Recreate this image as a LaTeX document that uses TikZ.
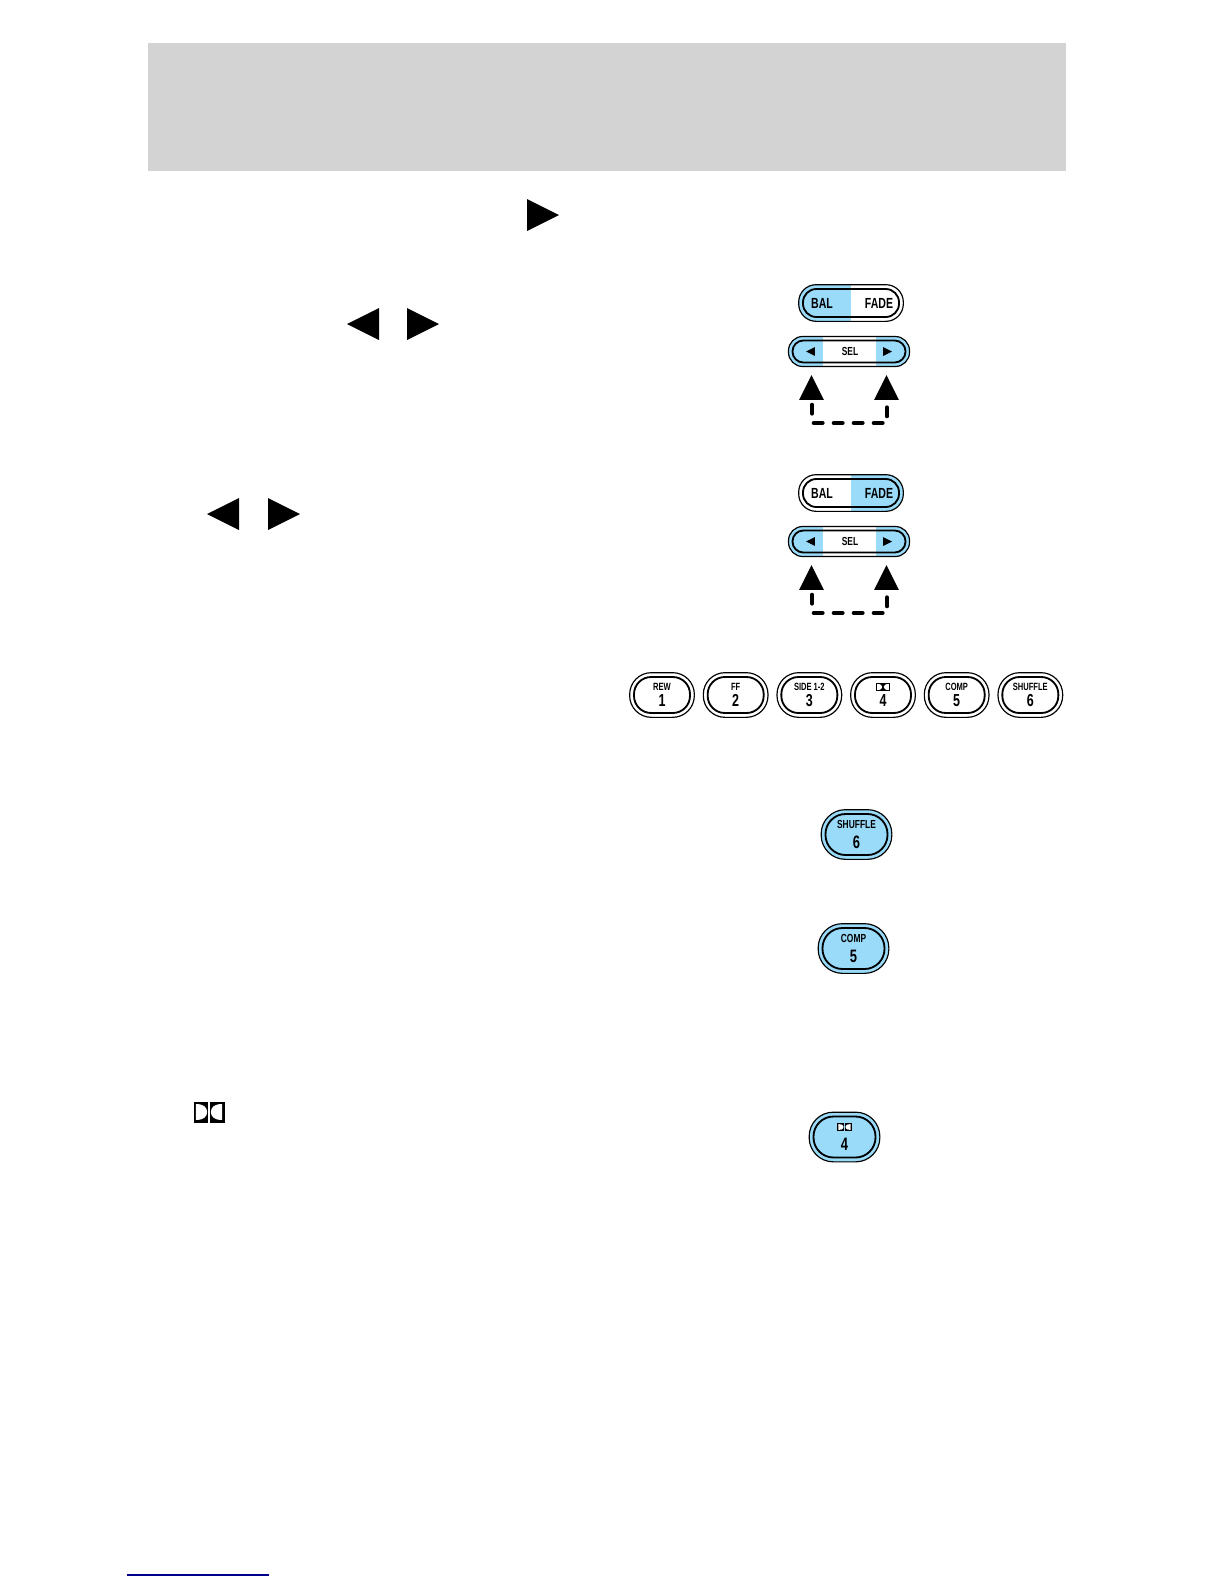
\documentclass[tikz,border=0pt]{standalone}
\usepackage{fontspec}
\usetikzlibrary{positioning,fit,backgrounds}
\newfontfamily\keyfont[FakeStretch=0.72]{Liberation Sans}
\definecolor{KeyBlue}{HTML}{9ADBFA}
\definecolor{HeaderGray}{HTML}{D3D3D3}
\definecolor{LinkBlue}{HTML}{00008B}
\newcommand{\keytext}[2]{{\fontsize{6.3}{6.1}\selectfont #1}\\[-2pt]{\fontsize{10.4}{6}\selectfont #2}}
\newcommand{\bigkeytext}[2]{{\fontsize{7}{7}\selectfont #1}\\[-0.2pt]{\fontsize{10.8}{6}\selectfont #2}}
\tikzset{
  keycap/.style={
    draw=black,
    line width=1.1pt,
    rounded corners=10.3pt,
    outer sep=0pt,
    inner sep=0pt,
    minimum width=33.6pt,
    minimum height=21.6pt,
    align=center,
    font=\keyfont\bfseries
  },
  bigcap/.style={
    keycap,
    rounded corners=12pt,
    minimum width=37.2pt,
    minimum height=24.6pt
  },
  balcap/.style={
    keycap,
    rounded corners=8pt,
    minimum width=57.6pt,
    minimum height=16.8pt
  },
  selcap/.style={
    keycap,
    rounded corners=6.5pt,
    minimum width=67.8pt,
    minimum height=13.2pt
  },
  keyrim/.style={
    draw=black,
    line width=0.7pt,
    rounded corners=#1,
    outer sep=0pt,
    inner sep=2.6pt
  },
  keyrim/.default=13pt,
  keyword/.style={font=\keyfont\bfseries\fontsize{8.8}{9}\selectfont},
  selword/.style={font=\keyfont\bfseries\fontsize{7}{7}\selectfont},
  leftblue/.style={path picture={
    \fill[KeyBlue, sharp corners] (path picture bounding box.south west) rectangle (path picture bounding box.north);}},
  rightblue/.style={path picture={
    \fill[KeyBlue, sharp corners] (path picture bounding box.north) rectangle (path picture bounding box.south east);}},
  endsblue/.style={path picture={
    \fill[KeyBlue, sharp corners] (path picture bounding box.south west) rectangle ([xshift=-15.9pt]path picture bounding box.north);
    \fill[KeyBlue, sharp corners] ([xshift=15.9pt]path picture bounding box.north) rectangle (path picture bounding box.south east);}},
  dashlink/.style={
    line width=2.8pt,
    line cap=round,
    dash pattern=on 5pt off 7pt
  },
  tri/.pic={\fill[black] (-16,-16) -- (-16,16) -- (16,0) -- cycle;},
  dolby/.pic={
    \fill[black] (-15.5,-10.5) rectangle (-0.6,10.5);
    \fill[black] (0.6,-10.5) rectangle (15.5,10.5);
    \fill[white] (-13.2,-8) .. controls (-5,-8) and (-1.9,-4.4) .. (-1.9,0) .. controls (-1.9,4.4) and (-5,8) .. (-13.2,8) -- cycle;
    \fill[white] (13.2,-8) .. controls (5,-8) and (1.9,-4.4) .. (1.9,0) .. controls (1.9,4.4) and (5,8) .. (13.2,8) -- cycle;
  }
}
\begin{document}
\begin{tikzpicture}[x=0.6pt,y=-0.6pt,node distance=10.6pt]
\useasboundingbox (0,0) rectangle (1224,1584);

% page furniture
\fill[HeaderGray] (148,43) rectangle (1066,171);
\coordinate (linkstart) at (127,1575);
\coordinate (linkend) at (269,1575);
\draw[LinkBlue, line width=0.9pt] (linkstart) -- (linkend);

% symbols standing in the text
\pic at (543,215) {tri};
\pic[rotate=180] at (363,324) {tri};
\pic at (423,324) {tri};
\pic[rotate=180] at (223,514) {tri};
\pic at (284,514) {tri};
\pic at (209,1112) {dolby};

% balance and fade panels
\foreach \g/\dy/\side in {top/0/leftblue,low/190/rightblue} {
  \node[balcap] (bal\g) at (851,303+\dy) {};
  \node[keyword] (balword\g) at (822,303+\dy) {BAL};
  \node[keyword] (fadeword\g) at (879,303+\dy) {FADE};
  \node[selcap] (sel\g) at (849,351.5+\dy) {};
  \node[selword] (selword\g) at (850,351.5+\dy) {SEL};
  \begin{scope}[on background layer]
    \node[keyrim=10.5pt, \side, fit=(bal\g)] (balrim\g) {};
    \node[keyrim=8.5pt, endsblue, inner sep=2.4pt, fit=(sel\g)] (selrim\g) {};
  \end{scope}
  \pic[rotate=180, scale=0.28] at (810.5,351.5+\dy) {tri};
  \pic[scale=0.28] at (887.5,351.5+\dy) {tri};
  \pic[rotate=90, scale=0.78] at (811.5,387.5+\dy) {tri};
  \pic[rotate=90, scale=0.78] at (886.5,387.5+\dy) {tri};
  \coordinate (footleft\g) at (812,405+\dy);
  \coordinate (cornerleft\g) at (812,423+\dy);
  \coordinate (cornerright\g) at (887,423+\dy);
  \coordinate (footright\g) at (887,405+\dy);
  \draw[dashlink] (footleft\g) -- (cornerleft\g) -- (cornerright\g) -- (footright\g);
}

% row of six keys
\node[keycap] (rew) at (662,695) {\keytext{REW}{1}};
\node[keycap, right=of rew] (ff) {\keytext{FF}{2}};
\node[keycap, right=of ff] (side) {\keytext{SIDE 1-2}{3}};
\node[keycap, right=of side] (four) {\keytext{\phantom{X}}{4}};
\node[keycap, right=of four] (comp) {\keytext{COMP}{5}};
\node[keycap, right=of comp] (shuffle) {\keytext{SHUFFLE}{6}};
\foreach \n in {rew,ff,side,four,comp,shuffle}
  \node[keyrim, fit=(\n)] (rim\n) {};
\pic[xscale=0.44, yscale=0.38] at ([yshift=4.8pt]four.center) {dolby};

% single lit keys
\node[bigcap] (bigshuffle) at (856.5,834.5) {\bigkeytext{SHUFFLE}{6}};
\node[bigcap] (bigcomp) at (853.5,948.5) {\bigkeytext{COMP}{5}};
\node[bigcap] (bigfour) at (844.5,1137) {\bigkeytext{\phantom{X}}{4}};
\begin{scope}[on background layer]
  \foreach \n in {bigshuffle,bigcomp,bigfour}
    \node[keyrim=14.5pt, fill=KeyBlue, fit=(\n)] (rim\n) {};
\end{scope}
\pic[xscale=0.46, yscale=0.36] at ([yshift=6pt]bigfour.center) {dolby};
\end{tikzpicture}
\end{document}
